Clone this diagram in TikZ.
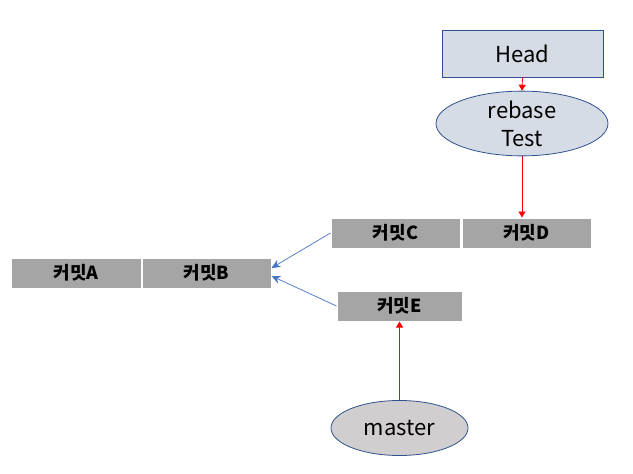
\documentclass[tikz,border=0pt]{standalone}
\usepackage{fontspec}
\setmainfont{Noto Sans CJK KR}
\usetikzlibrary{shapes.geometric,arrows.meta}
\definecolor{boxfill}{HTML}{D6DCE5}
\definecolor{boxline}{HTML}{2F528F}
\definecolor{commitfill}{HTML}{A5A5A5}
\definecolor{masterfill}{HTML}{D0CECE}
\definecolor{bluearrow}{HTML}{4472C4}
\tikzset{
  commit/.style={draw=white, line width=1pt, fill=commitfill, minimum height=30pt, inner sep=0pt, font=\fontsize{18pt}{20pt}\selectfont\bfseries},
  bigtext/.style={font=\fontsize{22pt}{28pt}\selectfont},
  redarrow/.style={draw=red, line width=0.8pt, -{Triangle[length=6pt,width=7pt]}},
  bluearr/.style={draw=bluearrow, line width=0.7pt, -{Stealth[length=9pt,width=8pt,inset=3pt]}},
}
\begin{document}
\begin{tikzpicture}[x=1pt,y=-1pt]
\useasboundingbox (0,0) rectangle (633,474);
\node[draw=boxline, line width=0.8pt, fill=boxfill, minimum width=161pt, minimum height=47pt, inner sep=0pt, bigtext] (head) at (522.5,53.5) {Head};
\node[ellipse, draw=boxline, line width=0.8pt, fill=boxfill, minimum width=172pt, minimum height=53pt, inner sep=0pt, align=center, bigtext] (rebase) at (522,123.5) {rebase\\Test};
\node[commit, minimum width=129pt] (c) at (395.5,233) {커밋C};
\node[commit, minimum width=129pt] (d) at (526.5,233) {커밋D};
\node[commit, minimum width=130pt] (a) at (76,273) {커밋A};
\node[commit, minimum width=129pt] (b) at (206.5,273) {커밋B};
\node[commit, minimum width=125pt] (e) at (399.5,306) {커밋E};
\node[ellipse, draw=boxline, line width=0.8pt, fill=masterfill, minimum width=137pt, minimum height=55pt, inner sep=0pt, bigtext] (master) at (399.5,428) {master};
\draw[redarrow] (head.south) -- (rebase.north);
\draw[redarrow] (rebase.south) -- (rebase.south |- d.north);
\draw[redarrow] (master.north) -- (master.north |- e.south);
\draw[bluearr] (c.west) -- ([yshift=5pt]b.east);
\draw[bluearr] (e.west) -- ([yshift=-3pt]b.east);
\end{tikzpicture}
\end{document}
